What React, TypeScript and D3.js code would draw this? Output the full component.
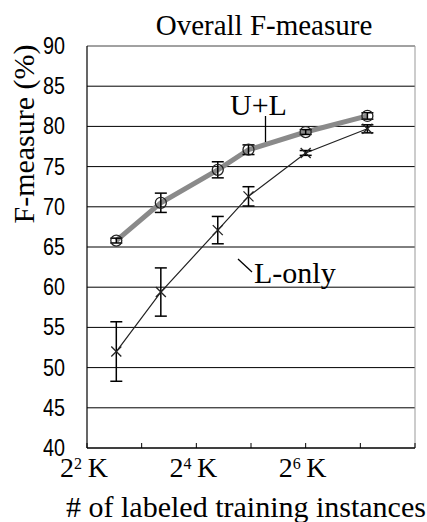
import React from 'react';
import * as d3 from 'd3';

// training set size in K (log2 axis)
const sizesK = [5.8, 10.2, 21, 31, 64, 140];
const ulMean = [65.8, 70.5, 74.6, 77.1, 79.3, 81.3];
const ulErr = [0.3, 1.2, 1.0, 0.6, 0.3, 0.4];
const lMean = [52.0, 59.4, 67.1, 71.3, 76.7, 79.7];
const lErr = [3.7, 3.0, 1.7, 1.2, 0.3, 0.5];

const yTicks = [40, 45, 50, 55, 60, 65, 70, 75, 80, 85, 90];
const xTicks = [4, 8, 16, 32, 64, 128, 256];
const xLabelExp = [2, 4, 6];

const W = 427;
const H = 522;
const left = 87, right = 415, top = 46, bottom = 448;

const serif = '"Liberation Serif", "Times New Roman", serif';
const sans = '"Liberation Sans", Arial, sans-serif';

const App = () => {
  const x = d3.scaleLog().base(2).domain([4, 256]).range([left, right]);
  const y = d3.scaleLinear().domain([40, 90]).range([bottom, top]);

  const ul = sizesK.map((s, i) => ({ s, m: ulMean[i], e: ulErr[i] }));
  const lo = sizesK.map((s, i) => ({ s, m: lMean[i], e: lErr[i] }));

  const line = d3
    .line<{ s: number; m: number }>()
    .x((d) => x(d.s))
    .y((d) => y(d.m));

  const errBars = (data: { s: number; m: number; e: number }[]) =>
    data.map((d, i) => {
      const cx = x(d.s);
      const y1 = y(d.m + d.e);
      const y2 = y(d.m - d.e);
      return (
        <g key={i} stroke="#000" strokeWidth={1.5}>
          <line x1={cx} x2={cx} y1={y1} y2={y2} />
          <line x1={cx - 6} x2={cx + 6} y1={y1} y2={y1} />
          <line x1={cx - 6} x2={cx + 6} y1={y2} y2={y2} />
        </g>
      );
    });

  return (
    <svg width={W} height={H} style={{ position: 'absolute', left: 0, top: 0, background: '#fff' }}>
      <rect width={W} height={H} fill="#fff" />

      {/* gridlines */}
      {yTicks.map((t) => (
        <line key={t} x1={left} x2={right} y1={y(t)} y2={y(t)}
          stroke={t === 90 ? '#444' : '#000'} strokeWidth={1} />
      ))}
      <line x1={right} x2={right} y1={top} y2={bottom} stroke="#999" strokeWidth={1} />
      <line x1={left} x2={left} y1={top} y2={bottom} stroke="#000" strokeWidth={1.2} />
      <line x1={left} x2={right} y1={bottom} y2={bottom} stroke="#000" strokeWidth={1.2} />

      {/* x ticks */}
      {xTicks.map((t) => (
        <line key={t} x1={x(t)} x2={x(t)} y1={bottom} y2={bottom - 5} stroke="#000" />
      ))}

      {/* y tick labels */}
      {yTicks.map((t) => (
        <text key={t} x={65} y={y(t) + 8} textAnchor="end" fontFamily={sans}
          fontSize={24} textLength={22} lengthAdjust="spacingAndGlyphs">{t}</text>
      ))}

      {/* x tick labels */}
      {xLabelExp.map((p) => (
        <text key={p} x={x(Math.pow(2, p)) - 3} y={477} textAnchor="middle" fontFamily={serif} fontSize={28}>
          2<tspan fontSize={16} dy={-8}>{p}</tspan>
          <tspan dy={8}>{'\u2009'}K</tspan>
        </text>
      ))}

      {/* series */}
      <path d={line(ul) || ''} fill="none" stroke="#8a8a8a" strokeWidth={5} />
      <path d={line(lo) || ''} fill="none" stroke="#222" strokeWidth={1.2} />
      {errBars(ul)}
      {errBars(lo)}
      {ul.map((d, i) => (
        <circle key={i} cx={x(d.s)} cy={y(d.m)} r={5.5} fill="none" stroke="#222" strokeWidth={1.3} />
      ))}
      {lo.map((d, i) => {
        const cx = x(d.s), cy = y(d.m);
        return (
          <g key={i} stroke="#222" strokeWidth={1.3}>
            <line x1={cx - 5} x2={cx + 5} y1={cy - 5} y2={cy + 5} />
            <line x1={cx - 5} x2={cx + 5} y1={cy + 5} y2={cy - 5} />
          </g>
        );
      })}

      {/* annotations */}
      <text x={230} y={115} fontFamily={serif} fontSize={30}>U+L</text>
      <line x1={265.5} x2={265.5} y1={116} y2={142} stroke="#000" strokeWidth={1.3} />
      <text x={254} y={283} fontFamily={serif} fontSize={30}>L-only</text>
      <line x1={238} x2={252} y1={259} y2={272} stroke="#000" strokeWidth={1.3} />

      {/* titles */}
      <text x={264} y={35} textAnchor="middle" fontFamily={serif} fontSize={29}>Overall F-measure</text>
      <text transform={`translate(34, 134) rotate(-90)`} textAnchor="middle" fontFamily={serif} fontSize={30}>
        F-measure (%)
      </text>
      <text x={246} y={517} textAnchor="middle" fontFamily={serif} fontSize={30}>
        # of labeled training instances
      </text>
    </svg>
  );
};

export default App;
